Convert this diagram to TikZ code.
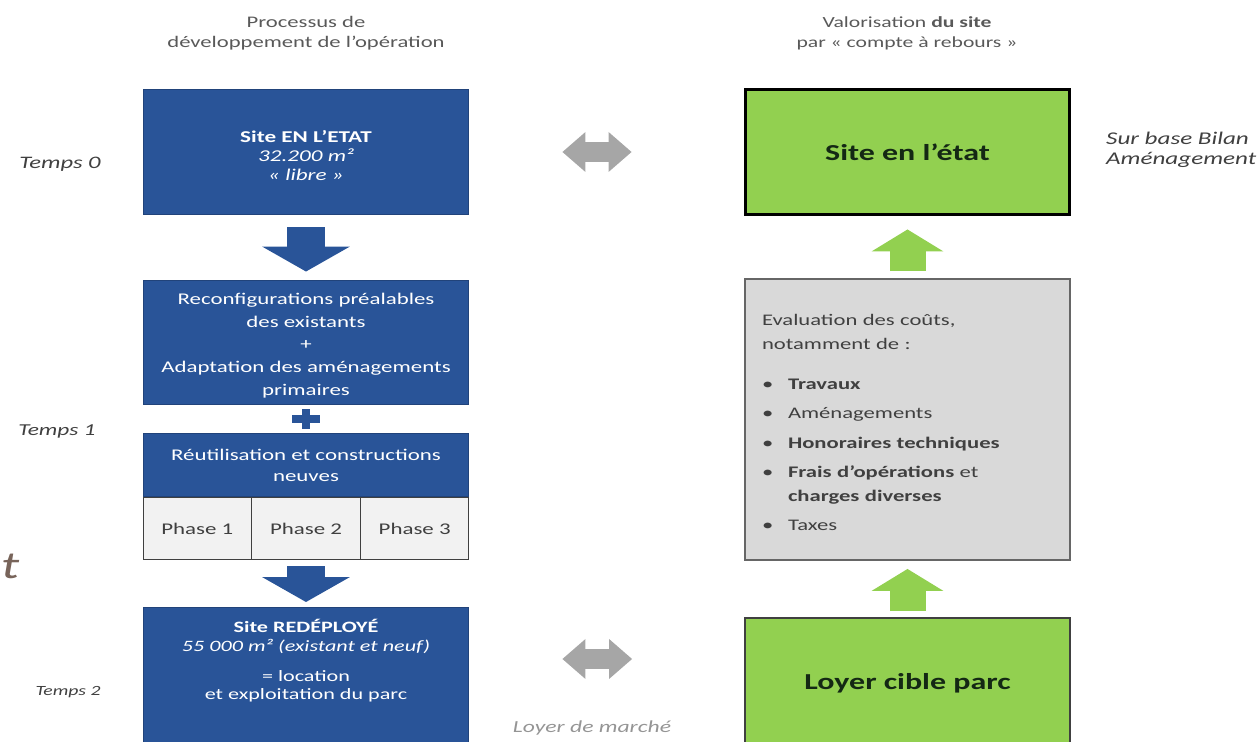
\documentclass[tikz,border=0pt]{standalone}
\usepackage{fontspec}
\setmainfont{Carlito}[FakeStretch=1.4]
\usetikzlibrary{arrows.meta,calc}

\definecolor{opblue}{RGB}{41,84,152}
\definecolor{opgreen}{RGB}{146,208,80}
\definecolor{costgray}{RGB}{217,217,217}
\definecolor{phasegray}{RGB}{242,242,242}
\definecolor{titlegray}{RGB}{89,89,89}
\definecolor{textdark}{RGB}{64,64,64}
\definecolor{linkgray}{RGB}{166,166,166}

\begin{document}
\begin{tikzpicture}[x=0.02cm,y=-0.02cm,
  bluebox/.style={draw=opblue!80!black,line width=0.02cm,fill=opblue,text=white,
    minimum width=6.52cm,align=center,inner sep=0pt},
  phasebox/.style={draw=textdark,line width=0.02cm,fill=phasegray,text=textdark,
    minimum width=2.173cm,minimum height=1.26cm,font=\fontsize{9.3}{12}\selectfont},
  greenbox/.style={fill=opgreen,minimum width=6.5cm,text={rgb,255:red,20;green,40;blue,20},
    font=\fontsize{13}{15}\selectfont\bfseries},
  costbox/.style={draw=textdark!80,line width=0.04cm,fill=costgray,text=textdark,
    minimum width=6.5cm,minimum height=5.62cm,text width=5.82cm,align=left,
    font=\fontsize{9.2}{13.7}\selectfont},
  titletext/.style={text=titlegray,align=center,font=\fontsize{9.2}{11.4}\selectfont},
  timetext/.style={text=textdark,font=\fontsize{10}{12}\selectfont\itshape},
  bluearrow/.style={draw=opblue,line width=0.76cm,
    -{Triangle[width=1.76cm,length=0.5cm,line width=0pt]}},
  greenarrow/.style={draw=opgreen,line width=0.72cm,
    -{Triangle[width=1.44cm,length=0.44cm,line width=0pt]}},
  linkarrow/.style={draw=linkgray,line width=0.4cm,
    {Triangle[width=0.8cm,length=0.46cm,line width=0pt]}-{Triangle[width=0.8cm,length=0.46cm,line width=0pt]}}]

\useasboundingbox (0,0) rectangle (1259,742);
\clip (0,0) rectangle (1259,742);

% titles
\node[titletext] (proc) at (306,33) {Processus de\\développement de l’opération};
\node[titletext,font=\fontsize{8.8}{11.4}\selectfont] (valo) at (907,33) {Valorisation \textbf{du site}\\par «~compte à rebours~»};

% left column
\node[bluebox,minimum height=2.52cm,font=\fontsize{9.4}{10.8}\selectfont] (etat) at (306,152)
  {\rule{0pt}{11pt}\textbf{Site EN L’ETAT}\\\textit{32.200 m²}\\\textit{«~libre~»}};
\node[bluebox,minimum height=2.5cm,font=\fontsize{9.3}{13}\selectfont] (reconf) at (306,342.5)
  {\rule{0pt}{10pt}Reconfigurations préalables\\des existants\\+\\Adaptation des aménagements\\primaires};
\node[bluebox,minimum height=1.28cm,font=\fontsize{9.3}{12}\selectfont] (reuse) at (306,465)
  {Réutilisation et constructions\\neuves};
\foreach \i/\px in {1/197.33,2/306,3/414.67}
  \node[phasebox] (phase\i) at (\px,528.5) {Phase \i};
\node[bluebox,anchor=north,inner ysep=0.24cm,text depth=2.4cm,font=\fontsize{9}{10.4}\selectfont] (redep) at (306,607)
  {\textbf{Site REDÉPLOYÉ}\\\textit{55 000 m² (existant et neuf)}\\[0.75em]= location\\et exploitation du parc};

\coordinate (plus) at ($(reconf.south)!0.5!(reuse.north)$);
\draw[opblue,line width=0.17cm] ([xshift=-0.28cm]plus) -- ([xshift=0.28cm]plus)
  ([yshift=-0.2cm]plus) -- ([yshift=0.2cm]plus);

\draw[bluearrow,shorten <=0.24cm,shorten >=0.16cm] (etat.south) -- (reconf.north);
\draw[bluearrow,shorten <=0.12cm,shorten >=0.1cm] (phase2.south) -- (redep.north);

% right column
\node[greenbox,draw=black,line width=0.06cm,minimum height=2.52cm] (siteval) at (907.5,152) {Site en l’état};
\node[costbox] (costs) at (907.5,419.5) {\rule{0pt}{14pt}Evaluation des coûts,\\notamment de :\\[12pt]
  \begin{tabular}{@{}p{0.52cm}@{}p{5.2cm}@{}}
  \textbullet & \textbf{Travaux}\\[3pt]
  \textbullet & Aménagements\\[3pt]
  \textbullet & \textbf{Honoraires techniques}\\[3pt]
  \textbullet & \textbf{Frais d’opérations} et\newline \textbf{charges diverses}\\[3pt]
  \textbullet & Taxes
  \end{tabular}};
\node[greenbox,draw=textdark,line width=0.04cm,minimum height=2.6cm] (loyer) at (907.5,683) {Loyer cible parc};

\draw[greenarrow,shorten <=0.14cm,shorten >=0.26cm] (costs.north) -- (siteval.south);
\draw[greenarrow,shorten <=0.12cm,shorten >=0.16cm] (loyer.north) -- (costs.south);

% links between the two columns
\draw[linkarrow,shorten <=1.86cm,shorten >=2.24cm] (etat.east) -- (siteval.west);
\draw[linkarrow,shorten <=1.86cm,shorten >=2.24cm] (redep.east |- 0,659) -- (loyer.west |- 0,659);

% side labels
\node[timetext] (t0) at (60,164) {Temps 0};
\node[timetext,font=\fontsize{9.5}{11}\selectfont\itshape] (t1) at (57,431) {Temps 1};
\node[timetext,font=\fontsize{8}{10}\selectfont\itshape] (t2) at (68,692) {Temps 2};
\node[text=textdark,align=left,anchor=west,font=\fontsize{10.2}{11.6}\selectfont\itshape] (bilan) at (1100,150)
  {Sur base Bilan\\Aménagement};
\node[text=linkgray!90!black,font=\fontsize{9.6}{11}\selectfont\itshape] (marche) at (592,728) {Loyer de marché};
\node[text={rgb,255:red,120;green,100;blue,90},anchor=west,inner sep=0pt,font=\fontsize{22}{26}\selectfont\itshape] (frag) at (1,566) {t};
\end{tikzpicture}
\end{document}
